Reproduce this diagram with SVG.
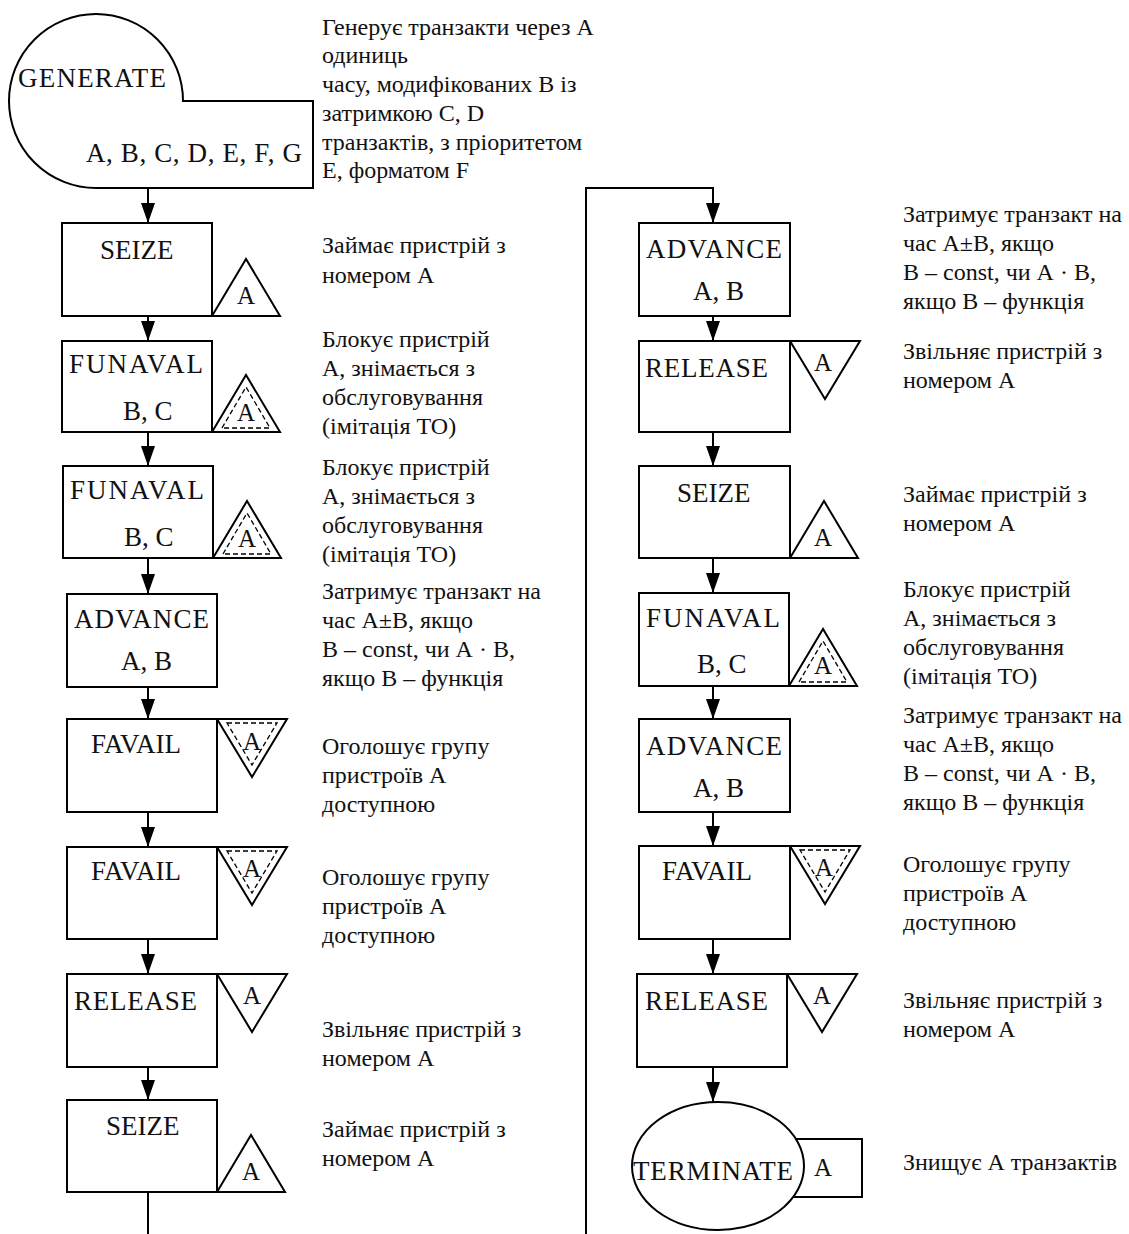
<svg xmlns="http://www.w3.org/2000/svg" width="1129" height="1234" viewBox="0 0 1129 1234">
<style>
.s{fill:#fff;stroke:#000;stroke-width:2}
.d{fill:none;stroke:#000;stroke-width:1.3;stroke-dasharray:5 3}
.c{fill:none;stroke:#000;stroke-width:2}
text{font-family:"Liberation Serif","Times New Roman",serif;fill:#111}
.b{font-size:27px}
.t{font-size:25px}
.x{font-size:24px}
</style>
<defs>
<marker id="arr" markerUnits="userSpaceOnUse" markerWidth="20" markerHeight="14" viewBox="0 0 20 14" refX="20" refY="7" orient="auto">
<path d="M0,0 L20,7 L0,14 Z" fill="#000"/>
</marker>
<path id="tu" d="M0,0 L34,-57 L68,0 Z"/>
<path id="tui" d="M10,-4 L34,-45 L58,-4 Z"/>
<path id="td" d="M0,0 L70,0 L35,58 Z"/>
<path id="tdi" d="M10,4 L60,4 L35,46 Z"/>
</defs>

<g id="connectors">
<line class="c" x1="148" y1="188" x2="148" y2="223" marker-end="url(#arr)"/>
<line class="c" x1="148" y1="316" x2="148" y2="341" marker-end="url(#arr)"/>
<line class="c" x1="148" y1="432" x2="148" y2="466" marker-end="url(#arr)"/>
<line class="c" x1="148" y1="558" x2="148" y2="594" marker-end="url(#arr)"/>
<line class="c" x1="148" y1="687" x2="148" y2="719" marker-end="url(#arr)"/>
<line class="c" x1="148" y1="812" x2="148" y2="847" marker-end="url(#arr)"/>
<line class="c" x1="148" y1="939" x2="148" y2="974" marker-end="url(#arr)"/>
<line class="c" x1="148" y1="1067" x2="148" y2="1100" marker-end="url(#arr)"/>
<line class="c" x1="148" y1="1192" x2="148" y2="1234"/>
<polyline class="c" points="586,1234 586,188 713,188 713,223" marker-end="url(#arr)"/>
<line class="c" x1="713" y1="316" x2="713" y2="341" marker-end="url(#arr)"/>
<line class="c" x1="713" y1="432" x2="713" y2="466" marker-end="url(#arr)"/>
<line class="c" x1="713" y1="558" x2="713" y2="593" marker-end="url(#arr)"/>
<line class="c" x1="713" y1="686" x2="713" y2="719" marker-end="url(#arr)"/>
<line class="c" x1="713" y1="812" x2="713" y2="846" marker-end="url(#arr)"/>
<line class="c" x1="713" y1="939" x2="713" y2="974" marker-end="url(#arr)"/>
<line class="c" x1="713" y1="1067" x2="713" y2="1102" marker-end="url(#arr)"/>
</g>

<g id="generate">
<path class="s" d="M96,188 A87,87 0 1 1 183,101 L313,101 L313,188 Z"/>
<text class="b" x="18" y="87" textLength="148">GENERATE</text>
<text class="b" x="86" y="162" textLength="216">A, B, C, D, E, F, G</text>
</g>
<g id="generate-desc" class="x">
<text x="322" y="35">Генерує транзакти через А</text>
<text x="322" y="63">одиниць</text>
<text x="322" y="92">часу, модифікованих В із</text>
<text x="322" y="121">затримкою С, D</text>
<text x="322" y="150">транзактів, з пріоритетом</text>
<text x="322" y="178">Е, форматом F</text>
</g>

<g id="seize1">
<rect class="s" x="62" y="223" width="150" height="93"/>
<use href="#tu" class="s" x="212" y="316"/>
<text class="b" x="100" y="259">SEIZE</text>
<text class="t" x="246" y="304" text-anchor="middle">A</text>
</g>
<g id="seize1-desc" class="x">
<text x="322" y="253">Займає пристрій з</text>
<text x="322" y="283">номером А</text>
</g>

<g id="funaval1">
<rect class="s" x="62" y="341" width="150" height="91"/>
<use href="#tu" class="s" x="212" y="432"/>
<use href="#tui" class="d" x="212" y="432"/>
<text class="b" x="69" y="373" textLength="134">FUNAVAL</text>
<text class="b" x="123" y="420">B, C</text>
<text class="t" x="246" y="421" text-anchor="middle">A</text>
</g>
<g id="funaval1-desc" class="x">
<text x="322" y="347">Блокує пристрій</text>
<text x="322" y="376">А, знімається з</text>
<text x="322" y="405">обслуговування</text>
<text x="322" y="434">(імітація ТО)</text>
</g>

<g id="funaval2">
<rect class="s" x="63" y="466" width="150" height="92"/>
<use href="#tu" class="s" x="213" y="558"/>
<use href="#tui" class="d" x="213" y="558"/>
<text class="b" x="70" y="499" textLength="134">FUNAVAL</text>
<text class="b" x="124" y="546">B, C</text>
<text class="t" x="247" y="547" text-anchor="middle">A</text>
</g>
<g id="funaval2-desc" class="x">
<text x="322" y="475">Блокує пристрій</text>
<text x="322" y="504">А, знімається з</text>
<text x="322" y="533">обслуговування</text>
<text x="322" y="562">(імітація ТО)</text>
</g>

<g id="advance1">
<rect class="s" x="67" y="594" width="150" height="93"/>
<text class="b" x="74" y="628" textLength="135">ADVANCE</text>
<text class="b" x="121" y="670">A, B</text>
</g>
<g id="advance1-desc" class="x">
<text x="322" y="599">Затримує транзакт на</text>
<text x="322" y="628">час А±В, якщо</text>
<text x="322" y="657">В – const, чи А · В,</text>
<text x="322" y="686">якщо В – функція</text>
</g>

<g id="favail1">
<rect class="s" x="67" y="719" width="150" height="93"/>
<use href="#td" class="s" x="217" y="719"/>
<use href="#tdi" class="d" x="217" y="719"/>
<text class="b" x="91" y="753">FAVAIL</text>
<text class="t" x="252" y="750" text-anchor="middle">A</text>
</g>
<g id="favail1-desc" class="x">
<text x="322" y="754">Оголошує групу</text>
<text x="322" y="783">пристроїв А</text>
<text x="322" y="812">доступною</text>
</g>

<g id="favail2">
<rect class="s" x="67" y="847" width="150" height="92"/>
<use href="#td" class="s" x="217" y="847"/>
<use href="#tdi" class="d" x="217" y="847"/>
<text class="b" x="91" y="880">FAVAIL</text>
<text class="t" x="252" y="877" text-anchor="middle">A</text>
</g>
<g id="favail2-desc" class="x">
<text x="322" y="885">Оголошує групу</text>
<text x="322" y="914">пристроїв А</text>
<text x="322" y="943">доступною</text>
</g>

<g id="release1">
<rect class="s" x="67" y="974" width="150" height="93"/>
<use href="#td" class="s" x="217" y="974"/>
<text class="b" x="74" y="1010" textLength="123">RELEASE</text>
<text class="t" x="252" y="1004" text-anchor="middle">A</text>
</g>
<g id="release1-desc" class="x">
<text x="322" y="1037">Звільняє пристрій з</text>
<text x="322" y="1066">номером А</text>
</g>

<g id="seize2">
<rect class="s" x="67" y="1100" width="150" height="92"/>
<use href="#tu" class="s" x="217" y="1192"/>
<text class="b" x="106" y="1135">SEIZE</text>
<text class="t" x="251" y="1180" text-anchor="middle">A</text>
</g>
<g id="seize2-desc" class="x">
<text x="322" y="1137">Займає пристрій з</text>
<text x="322" y="1166">номером А</text>
</g>

<g id="advance2">
<rect class="s" x="639" y="223" width="151" height="93"/>
<text class="b" x="646" y="258" textLength="136">ADVANCE</text>
<text class="b" x="693" y="300">A, B</text>
</g>
<g id="advance2-desc" class="x">
<text x="903" y="222">Затримує транзакт на</text>
<text x="903" y="251">час А±В, якщо</text>
<text x="903" y="280">В – const, чи А · В,</text>
<text x="903" y="309">якщо В – функція</text>
</g>

<g id="release2">
<rect class="s" x="639" y="341" width="151" height="91"/>
<use href="#td" class="s" x="790" y="341"/>
<text class="b" x="645" y="377" textLength="123">RELEASE</text>
<text class="t" x="823" y="371" text-anchor="middle">A</text>
</g>
<g id="release2-desc" class="x">
<text x="903" y="359">Звільняє пристрій з</text>
<text x="903" y="388">номером А</text>
</g>

<g id="seize3">
<rect class="s" x="639" y="466" width="151" height="92"/>
<use href="#tu" class="s" x="790" y="558"/>
<text class="b" x="677" y="502">SEIZE</text>
<text class="t" x="823" y="546" text-anchor="middle">A</text>
</g>
<g id="seize3-desc" class="x">
<text x="903" y="502">Займає пристрій з</text>
<text x="903" y="531">номером А</text>
</g>

<g id="funaval3">
<rect class="s" x="639" y="593" width="150" height="93"/>
<use href="#tu" class="s" x="789" y="686"/>
<use href="#tui" class="d" x="789" y="686"/>
<text class="b" x="646" y="627" textLength="134">FUNAVAL</text>
<text class="b" x="697" y="673">B, C</text>
<text class="t" x="823" y="674" text-anchor="middle">A</text>
</g>
<g id="funaval3-desc" class="x">
<text x="903" y="597">Блокує пристрій</text>
<text x="903" y="626">А, знімається з</text>
<text x="903" y="655">обслуговування</text>
<text x="903" y="684">(імітація ТО)</text>
</g>

<g id="advance3">
<rect class="s" x="639" y="719" width="151" height="93"/>
<text class="b" x="646" y="755" textLength="136">ADVANCE</text>
<text class="b" x="693" y="797">A, B</text>
</g>
<g id="advance3-desc" class="x">
<text x="903" y="723">Затримує транзакт на</text>
<text x="903" y="752">час А±В, якщо</text>
<text x="903" y="781">В – const, чи А · В,</text>
<text x="903" y="810">якщо В – функція</text>
</g>

<g id="favail3">
<rect class="s" x="639" y="846" width="151" height="93"/>
<use href="#td" class="s" x="790" y="846"/>
<use href="#tdi" class="d" x="790" y="846"/>
<text class="b" x="662" y="880">FAVAIL</text>
<text class="t" x="824" y="876" text-anchor="middle">A</text>
</g>
<g id="favail3-desc" class="x">
<text x="903" y="872">Оголошує групу</text>
<text x="903" y="901">пристроїв А</text>
<text x="903" y="930">доступною</text>
</g>

<g id="release3">
<rect class="s" x="637" y="974" width="150" height="93"/>
<use href="#td" class="s" x="787" y="974"/>
<text class="b" x="645" y="1010" textLength="123">RELEASE</text>
<text class="t" x="822" y="1004" text-anchor="middle">A</text>
</g>
<g id="release3-desc" class="x">
<text x="903" y="1008">Звільняє пристрій з</text>
<text x="903" y="1037">номером А</text>
</g>

<g id="terminate">
<rect class="s" x="770" y="1139" width="92" height="58"/>
<ellipse class="s" cx="718" cy="1166" rx="86" ry="64"/>
<text class="b" x="633" y="1180" textLength="160">TERMINATE</text>
<text class="t" x="823" y="1176" text-anchor="middle">A</text>
</g>
<g id="terminate-desc" class="x">
<text x="903" y="1170">Знищує А транзактів</text>
</g>
</svg>
